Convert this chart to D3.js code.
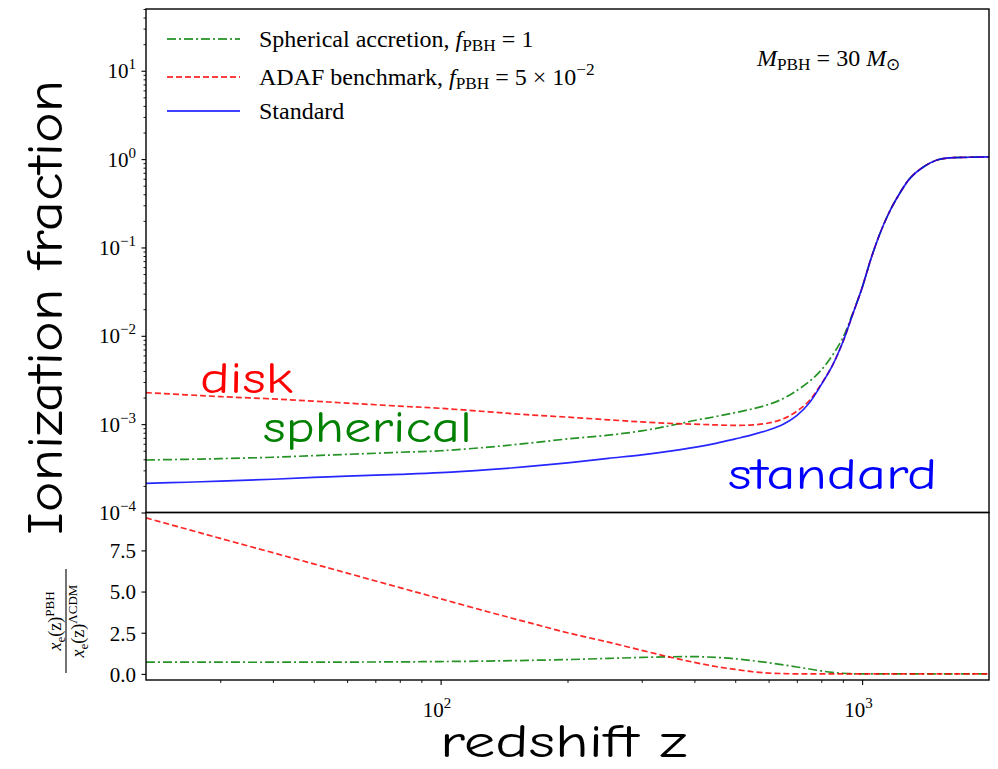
<!DOCTYPE html>
<html><head><meta charset="utf-8">
<script src="https://cdn.jsdelivr.net/npm/d3@7"></script>
<style>body{margin:0;background:#fff}svg{display:block}</style>
</head><body><svg id="c" width="998" height="769"></svg>
<script>
// ---- data ----
const redshift      = [20,25,30,40,50,60,80,100,130,160,200,250,300,350,400,450,500,550,600,650,700,750,800,850,900,950,1000,1050,1100,1150,1200,1300,1400,1500,1600,1800,2000];
const xeStandard    = [2.14e-4,2.2e-4,2.27e-4,2.38e-4,2.5e-4,2.58e-4,2.7e-4,2.82e-4,3.05e-4,3.3e-4,3.65e-4,4.1e-4,4.5e-4,4.95e-4,5.45e-4,6.05e-4,6.8e-4,7.6e-4,8.6e-4,1.0e-3,1.25e-3,1.75e-3,2.8e-3,4.6e-3,8.5e-3,0.0175,0.035,0.075,0.14,0.23,0.34,0.61,0.82,0.97,1.03,1.05,1.06];
const xeSpherical   = [3.93e-4,4.0e-4,4.07e-4,4.22e-4,4.4e-4,4.55e-4,4.8e-4,5.0e-4,5.5e-4,6.05e-4,6.8e-4,7.5e-4,8.4e-4,9.6e-4,1.1e-3,1.22e-3,1.35e-3,1.49e-3,1.67e-3,1.95e-3,2.4e-3,3.05e-3,4.1e-3,6.0e-3,9.5e-3,0.018,0.035,0.075,0.14,0.23,0.34,0.61,0.82,0.97,1.03,1.05,1.06];
const xeDisk        = [2.27e-3,2.15e-3,2.05e-3,1.93e-3,1.82e-3,1.73e-3,1.6e-3,1.51e-3,1.38e-3,1.28e-3,1.2e-3,1.12e-3,1.06e-3,1.02e-3,1.0e-3,9.8e-4,9.7e-4,9.8e-4,1.03e-3,1.15e-3,1.4e-3,1.85e-3,2.85e-3,4.6e-3,8.5e-3,0.0175,0.035,0.075,0.14,0.23,0.34,0.61,0.82,0.97,1.03,1.05,1.06];
const ratioSpherical= [0.71,0.71,0.71,0.71,0.72,0.72,0.73,0.75,0.78,0.82,0.87,0.94,1.0,1.04,1.05,1.0,0.92,0.8,0.68,0.55,0.42,0.3,0.18,0.09,0.04,0.01,0,0,0,0,0,0,0,0,0,0,0];
const ratioDisk     = [9.47,8.79,8.23,7.36,6.68,6.12,5.24,4.56,3.76,3.15,2.5,1.93,1.43,1.02,0.7,0.45,0.27,0.13,0.05,0.02,0,0,0,0,0,0,0,0,0,0,0,0,0,0,0,0,0];
const topTickExp    = [-4,-3,-2,-1,0,1];
const bottomTicks   = [0.0,2.5,5.0,7.5];
const xTickExp      = [2,3];
const seriesNames   = ["Spherical accretion", "ADAF benchmark", "Standard"];

// ---- layout ----
const L = 146, R = 989, T = 9, MID = 512.5, B = 680;
const svg = d3.select("#c");
const serif = "'Liberation Serif','Times New Roman',serif";
const comic = "'Comic Sans MS','Comic Neue','Noto Sans',sans-serif";

const x = d3.scaleLog().domain([20, 2000]).range([L, R]);
const yTop = d3.scaleLog().domain([1e-4, 50]).range([MID, T]);
const yBot = d3.scaleLinear().domain([-0.37, 9.8]).range([B, MID]);

const defs = svg.append("defs");
defs.append("clipPath").attr("id","clipTop").append("rect").attr("x",L).attr("y",T).attr("width",R-L).attr("height",MID-T);
defs.append("clipPath").attr("id","clipBot").append("rect").attr("x",L).attr("y",MID).attr("width",R-L).attr("height",B-MID);

const styles = {
  green: {stroke:"#008000", dash:"9,3,2,3"},
  red:   {stroke:"#ff0000", dash:"6,3"},
  blue:  {stroke:"#0000ff", dash:null}
};

function series(vals){ return redshift.map((z,i)=>({z, v: vals[i]})); }

const lineTop = d3.line().x(d=>x(d.z)).y(d=>yTop(d.v)).curve(d3.curveCatmullRom.alpha(0.5));
const lineBot = d3.line().x(d=>x(d.z)).y(d=>yBot(d.v)).curve(d3.curveCatmullRom.alpha(0.5));

const gTop = svg.append("g").attr("clip-path","url(#clipTop)");
[[xeSpherical,"green"],[xeDisk,"red"],[xeStandard,"blue"]].forEach(([vals,c])=>{
  gTop.append("path").attr("d", lineTop(series(vals))).attr("fill","none")
    .attr("stroke", styles[c].stroke).attr("stroke-width",1.7)
    .attr("stroke-dasharray", styles[c].dash).attr("stroke-opacity",0.85);
});
const gBot = svg.append("g").attr("clip-path","url(#clipBot)");
[[ratioSpherical,"green"],[ratioDisk,"red"]].forEach(([vals,c])=>{
  gBot.append("path").attr("d", lineBot(series(vals))).attr("fill","none")
    .attr("stroke", styles[c].stroke).attr("stroke-width",1.7)
    .attr("stroke-dasharray", styles[c].dash).attr("stroke-opacity",0.85);
});

// ---- axes ----
const minorTop = [];
for (let e=-4; e<=1; e++) for (let m=2; m<=9; m++){ const v=m*Math.pow(10,e); if (v<=50) minorTop.push(v); }
svg.append("g").attr("transform",`translate(${L},0)`)
  .call(d3.axisLeft(yTop).tickValues(minorTop).tickSize(2.5).tickFormat(""))
  .call(g=>{g.select(".domain").remove(); g.selectAll("line").attr("stroke","#000").attr("stroke-width",0.9);});
const ayTop = svg.append("g").attr("transform",`translate(${L},0)`)
  .call(d3.axisLeft(yTop).tickValues(topTickExp.map(e=>Math.pow(10,e))).tickSize(4.5).tickFormat(""));
ayTop.select(".domain").remove();
ayTop.selectAll("line").attr("stroke","#000").attr("stroke-width",1.1);
ayTop.selectAll(".tick").each(function(v){
  const e = Math.round(Math.log10(v));
  const t = d3.select(this).append("text").attr("x",-10).attr("y",7).attr("fill","#000")
    .attr("text-anchor","end").attr("font-family",serif).attr("font-size",21);
  t.append("tspan").text("10");
  t.append("tspan").attr("dy",-9).attr("font-size",15).text(e<0 ? "\u2212"+(-e) : String(e));
});

const ayBot = svg.append("g").attr("transform",`translate(${L},0)`)
  .call(d3.axisLeft(yBot).tickValues(bottomTicks).tickSize(4.5).tickFormat(d3.format(".1f")));
ayBot.select(".domain").remove();
ayBot.selectAll("line").attr("stroke","#000").attr("stroke-width",1.1);
ayBot.selectAll("text").attr("font-family",serif).attr("font-size",21).attr("fill","#000").attr("x",-10).attr("dy","0.35em");

const minorX = [];
for (let e=1; e<=3; e++) for (let m=2; m<=9; m++){ const v=m*Math.pow(10,e); if (v>20 && v<2000) minorX.push(v); }
svg.append("g").attr("transform",`translate(0,${B})`)
  .call(d3.axisBottom(x).tickValues(minorX).tickSize(3).tickFormat(""))
  .call(g=>{g.select(".domain").remove(); g.selectAll("line").attr("stroke","#000").attr("stroke-width",0.9);});
const ax = svg.append("g").attr("transform",`translate(0,${B})`)
  .call(d3.axisBottom(x).tickValues(xTickExp.map(e=>Math.pow(10,e))).tickSize(5).tickFormat(""));
ax.select(".domain").remove();
ax.selectAll("line").attr("stroke","#000").attr("stroke-width",1.1);
ax.selectAll(".tick").each(function(v){
  const e = Math.round(Math.log10(v));
  const t = d3.select(this).append("text").attr("x",-4).attr("y",37).attr("fill","#000")
    .attr("text-anchor","middle").attr("font-family",serif).attr("font-size",21);
  t.append("tspan").text("10");
  t.append("tspan").attr("dy",-9).attr("font-size",15).text(String(e));
});

svg.append("rect").attr("x",L).attr("y",T).attr("width",R-L).attr("height",MID-T).attr("fill","none").attr("stroke","#000").attr("stroke-width",1.4);
svg.append("rect").attr("x",L).attr("y",MID).attr("width",R-L).attr("height",B-MID).attr("fill","none").attr("stroke","#000").attr("stroke-width",1.4);

// ---- legend ----
const legY = [39, 77, 111];
const legKeys = ["green","red","blue"];
legKeys.forEach((c,i)=>{
  svg.append("line").attr("x1",167).attr("x2",240).attr("y1",legY[i]).attr("y2",legY[i])
    .attr("stroke",styles[c].stroke).attr("stroke-width",1.7).attr("stroke-dasharray",styles[c].dash);
});
function rich(x0, y0, parts, size){
  const t = svg.append("text").attr("x",x0).attr("y",y0).attr("font-family",serif).attr("font-size",size).attr("fill","#000");
  let cur = 0;
  parts.forEach(p=>{
    const shift = p.sub ? 4 : (p.sup ? -10 : 0);
    const s = t.append("tspan").attr("dy", shift - cur).text(p.t);
    cur = shift;
    if (p.i) s.attr("font-style","italic");
    if (p.sub || p.sup) s.attr("font-size", size*0.72);
  });
  return t;
}
rich(259, legY[0]+8, [{t:seriesNames[0]+", "},{t:"f",i:true},{t:"PBH",sub:true},{t:" = 1"}], 24);
rich(259, legY[1]+8, [{t:seriesNames[1]+", "},{t:"f",i:true},{t:"PBH",sub:true},{t:" = 5 \u00d7 10"},{t:"\u22122",sup:true}], 24);
rich(259, legY[2]+8, [{t:seriesNames[2]}], 24);
rich(757, 66, [{t:"M",i:true},{t:"PBH",sub:true},{t:" = 30 "},{t:"M",i:true},{t:"\u2299",sub:true}], 24);

// ---- bottom y label (fraction) ----
const fr = svg.append("g").attr("transform","translate(66,621) rotate(-90)");
function fracText(yb, parts){
  const t = fr.append("text").attr("x",0).attr("y",yb).attr("text-anchor","middle")
    .attr("font-family",serif).attr("font-size",18).attr("fill","#000");
  let cur=0;
  parts.forEach(p=>{
    const shift = p.sub ? 4 : (p.sup ? -7 : 0);
    const s = t.append("tspan").attr("dy",shift-cur).text(p.t);
    cur=shift;
    if (p.i) s.attr("font-style","italic");
    if (p.sub||p.sup) s.attr("font-size",13);
  });
}
fracText(-5, [{t:"x",i:true},{t:"e",sub:true},{t:"(z)"},{t:"PBH",sup:true}]);
fracText(18, [{t:"x",i:true},{t:"e",sub:true},{t:"(z)"},{t:"\u039bCDM",sup:true}]);
fr.append("line").attr("x1",-52).attr("x2",52).attr("y1",0).attr("y2",0).attr("stroke","#000").attr("stroke-width",1.1);

// ---- hand-written annotations ----
function note(txt, x0, y0, len, size, color){
  svg.append("text").attr("x",x0).attr("y",y0).attr("font-family",comic).attr("font-size",size)
    .attr("fill",color).attr("textLength",len).attr("lengthAdjust","spacingAndGlyphs").text(txt);
}
note("disk", 200, 393, 93, 44, "#ff0000");
note("spherical", 263, 442, 209, 44, "#008000");
note("standard", 728, 489, 209, 44, "#0000ff");
note("redshift z", 440, 757, 247, 46, "#000");
svg.append("text").attr("transform","translate(62,535) rotate(-90)").attr("font-family",comic)
  .attr("font-size",50).attr("fill","#000").attr("textLength",455).attr("lengthAdjust","spacingAndGlyphs")
  .text("Ionization fraction");
</script></body></html>
